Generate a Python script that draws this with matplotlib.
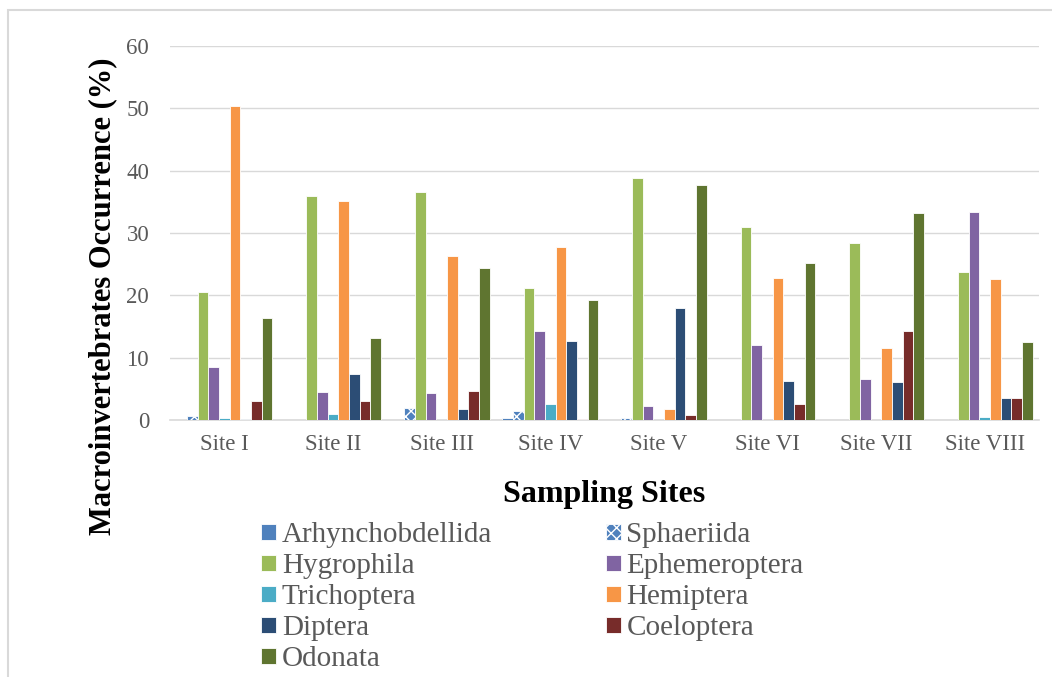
import matplotlib
matplotlib.use("Agg")
import matplotlib.pyplot as plt
from matplotlib.patches import Rectangle
import numpy as np

sites = ["Site I", "Site II", "Site III", "Site IV", "Site V", "Site VI", "Site VII", "Site VIII"]
series_names = ["Arhynchobdellida", "Sphaeriida", "Hygrophila", "Ephemeroptera", "Trichoptera",
                "Hemiptera", "Diptera", "Coeloptera", "Odonata"]
arhynchobdellida = [0, 0, 0, 0.4, 0, 0, 0, 0]
sphaeriida = [0.7, 0, 1.9, 1.5, 0.4, 0, 0, 0]
hygrophila = [20.5, 35.9, 36.5, 21.2, 38.8, 30.9, 28.4, 23.8]
ephemeroptera = [8.5, 4.5, 4.3, 14.3, 2.3, 12.1, 6.5, 33.4]
trichoptera = [0.3, 0.9, 0, 2.5, 0, 0, 0, 0.55]
hemiptera = [50.4, 35.1, 26.3, 27.8, 1.8, 22.8, 11.6, 22.6]
diptera = [0.1, 7.3, 1.8, 12.7, 17.9, 6.3, 6.05, 3.5]
coeloptera = [3.1, 3.1, 4.7, 0.1, 0.85, 2.5, 14.2, 3.5]
odonata = [16.3, 13.2, 24.4, 19.3, 37.7, 25.2, 33.2, 12.5]
yticks = [0, 10, 20, 30, 40, 50, 60]

values = [arhynchobdellida, sphaeriida, hygrophila, ephemeroptera, trichoptera,
          hemiptera, diptera, coeloptera, odonata]
colors = ["#4F81BD", "#4F81BD", "#9BBB59", "#8064A2", "#4BACC6",
          "#F79646", "#2C4D75", "#772C2A", "#5F7530"]

plt.rcParams['font.family'] = ['Liberation Serif', 'DejaVu Serif']

fig = plt.figure(figsize=(10.52, 6.77), dpi=100)
ax = fig.add_axes([170/1052, 1-420/677, 869/1052, 374/677])

n = len(values)
w = 0.0982
x = np.arange(len(sites))
handles = []
for i, (vals, c, name) in enumerate(zip(values, colors, series_names)):
    offs = (i - (n - 1) / 2) * w
    if name == "Sphaeriida":
        b = ax.bar(x + offs, vals, width=w, color=c, edgecolor="white", linewidth=0.6,
                   hatch="xxx", label=name, zorder=3)
    else:
        b = ax.bar(x + offs, vals, width=w, color=c, edgecolor="white", linewidth=0.6,
                   label=name, zorder=3)
    handles.append(b)

ax.set_xlim(-0.5, len(sites) - 0.5)
ax.set_ylim(0, 60)
ax.set_yticks(yticks)
ax.set_xticks(x)
ax.set_xticklabels(sites)
ax.tick_params(axis='both', length=0, labelsize=16.5, labelcolor="#595959")
ax.tick_params(axis='y', pad=15)
ax.tick_params(axis='x', pad=10)
for s in ["top", "right", "left"]:
    ax.spines[s].set_visible(False)
ax.spines["bottom"].set_color("#D9D9D9")
ax.spines["bottom"].set_linewidth(1.2)
ax.yaxis.grid(True, color="#D9D9D9", linewidth=1.0, zorder=0)
ax.set_axisbelow(True)

ax.set_xlabel("Sampling Sites", fontsize=23, fontweight="bold", labelpad=18)
fig.text(103/1052, 1-296/677, "Macroinvertebrates Occurrence (%)", rotation=90,
         ha="center", va="center", fontsize=22, fontweight="bold")

# row-wise legend order (2 columns)
order = [0, 2, 4, 6, 8, 1, 3, 5, 7]
leg = fig.legend(handles=[handles[i] for i in order], labels=[series_names[i] for i in order],
                 ncol=2, loc="upper left",
                 bbox_to_anchor=(241/1052, 1-502/677), frameon=False, fontsize=21,
                 handlelength=0.5, handleheight=0.5, handletextpad=0.2,
                 columnspacing=3.9, labelspacing=0.17, borderpad=0.2)
for t in leg.get_texts():
    t.set_color("#595959")

fig.patches.append(Rectangle((7.5/1052, -0.1), 1.2, 0.1 + 1 - 9.5/677, transform=fig.transFigure,
                             fill=False, edgecolor="#D9D9D9", linewidth=1.5))

fig.savefig("out.png", dpi=100)
